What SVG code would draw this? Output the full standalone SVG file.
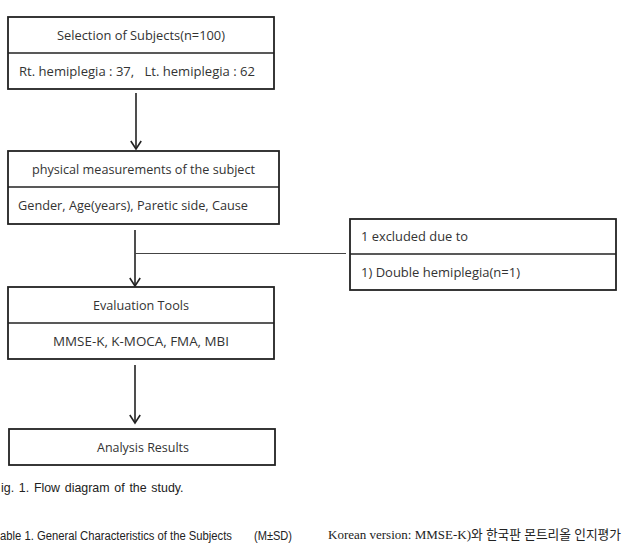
<svg xmlns="http://www.w3.org/2000/svg" width="623" height="543" viewBox="0 0 623 543">
<defs>
<style>
.box{fill:#fff;stroke:#222;stroke-width:1.8}
.div{stroke:#222;stroke-width:1.6}
.t{font-family:"Open Sans","Noto Sans",sans-serif;font-size:13.4px;fill:#333}
.conn{stroke:#222;stroke-width:1.6;fill:none}
.thin{stroke:#444;stroke-width:1.1;fill:none}
.cap{font-family:"Liberation Sans",Arial,sans-serif;font-size:12.4px;fill:#222}
.tab{font-family:"Liberation Sans",Arial,sans-serif;font-size:12px;fill:#222}
.kr{font-family:"Liberation Serif","Noto Sans CJK KR",serif;font-size:13px;fill:#222}
</style>
<marker id="arr" markerUnits="userSpaceOnUse" markerWidth="14" markerHeight="14" viewBox="0 0 14 14" refX="12" refY="7" orient="auto">
<polyline points="4,1.8 12,7 4,12.2" fill="none" stroke="#222" stroke-width="1.6"/>
</marker>
</defs>
<rect width="623" height="543" fill="#fff"/>

<g id="connectors">
<line class="conn" x1="136" y1="93" x2="136" y2="149" marker-end="url(#arr)"/>
<line class="conn" x1="135" y1="230" x2="135" y2="286" marker-end="url(#arr)"/>
<line class="thin" x1="135" y1="253.5" x2="346" y2="253.5"/>
<line class="conn" x1="135" y1="365" x2="135" y2="423" marker-end="url(#arr)"/>
</g>

<g id="selection">
<rect class="box" x="8" y="17" width="266" height="72"/>
<line class="div" x1="8" y1="53" x2="274" y2="53"/>
<text class="t" x="57" y="39.5" textLength="168" lengthAdjust="spacingAndGlyphs">Selection of Subjects(n=100)</text>
<text class="t" x="19" y="75.5" textLength="236" lengthAdjust="spacingAndGlyphs" xml:space="preserve">Rt. hemiplegia : 37,   Lt. hemiplegia : 62</text>
</g>

<g id="physical">
<rect class="box" x="8" y="151" width="271" height="73"/>
<line class="div" x1="8" y1="187" x2="279" y2="187"/>
<text class="t" x="32" y="173.5" textLength="223" lengthAdjust="spacingAndGlyphs">physical measurements of the subject</text>
<text class="t" x="18" y="210" textLength="230" lengthAdjust="spacingAndGlyphs">Gender, Age(years), Paretic side, Cause</text>
</g>

<g id="excluded">
<rect class="box" x="350" y="219" width="266" height="71"/>
<line class="div" x1="350" y1="254" x2="616" y2="254"/>
<text class="t" x="361" y="241" textLength="107" lengthAdjust="spacingAndGlyphs">1 excluded due to</text>
<text class="t" x="361" y="276.5" textLength="159" lengthAdjust="spacingAndGlyphs">1) Double hemiplegia(n=1)</text>
</g>

<g id="evaluation">
<rect class="box" x="8" y="287" width="266" height="72"/>
<line class="div" x1="8" y1="323" x2="274" y2="323"/>
<text class="t" x="93" y="309.5" textLength="96" lengthAdjust="spacingAndGlyphs">Evaluation Tools</text>
<text class="t" x="53" y="345.5" textLength="176" lengthAdjust="spacingAndGlyphs">MMSE-K, K-MOCA, FMA, MBI</text>
</g>

<g id="analysis">
<rect class="box" x="9" y="429" width="266" height="36"/>
<text class="t" x="97" y="452" textLength="92" lengthAdjust="spacingAndGlyphs">Analysis Results</text>
</g>

<text class="cap" x="1" y="491.5" word-spacing="1.3">ig. 1. Flow diagram of the study.</text>
<text class="tab" x="0" y="539.5" textLength="232" lengthAdjust="spacingAndGlyphs">able 1. General Characteristics of the Subjects</text>
<text class="tab" x="254" y="539.5" textLength="38" lengthAdjust="spacingAndGlyphs">(M±SD)</text>
<text class="kr" x="328" y="539"><tspan textLength="143" lengthAdjust="spacingAndGlyphs">Korean version: MMSE-K)</tspan><tspan x="471" textLength="150" lengthAdjust="spacingAndGlyphs">와 한국판 몬트리올 인지평가</tspan></text>
</svg>
